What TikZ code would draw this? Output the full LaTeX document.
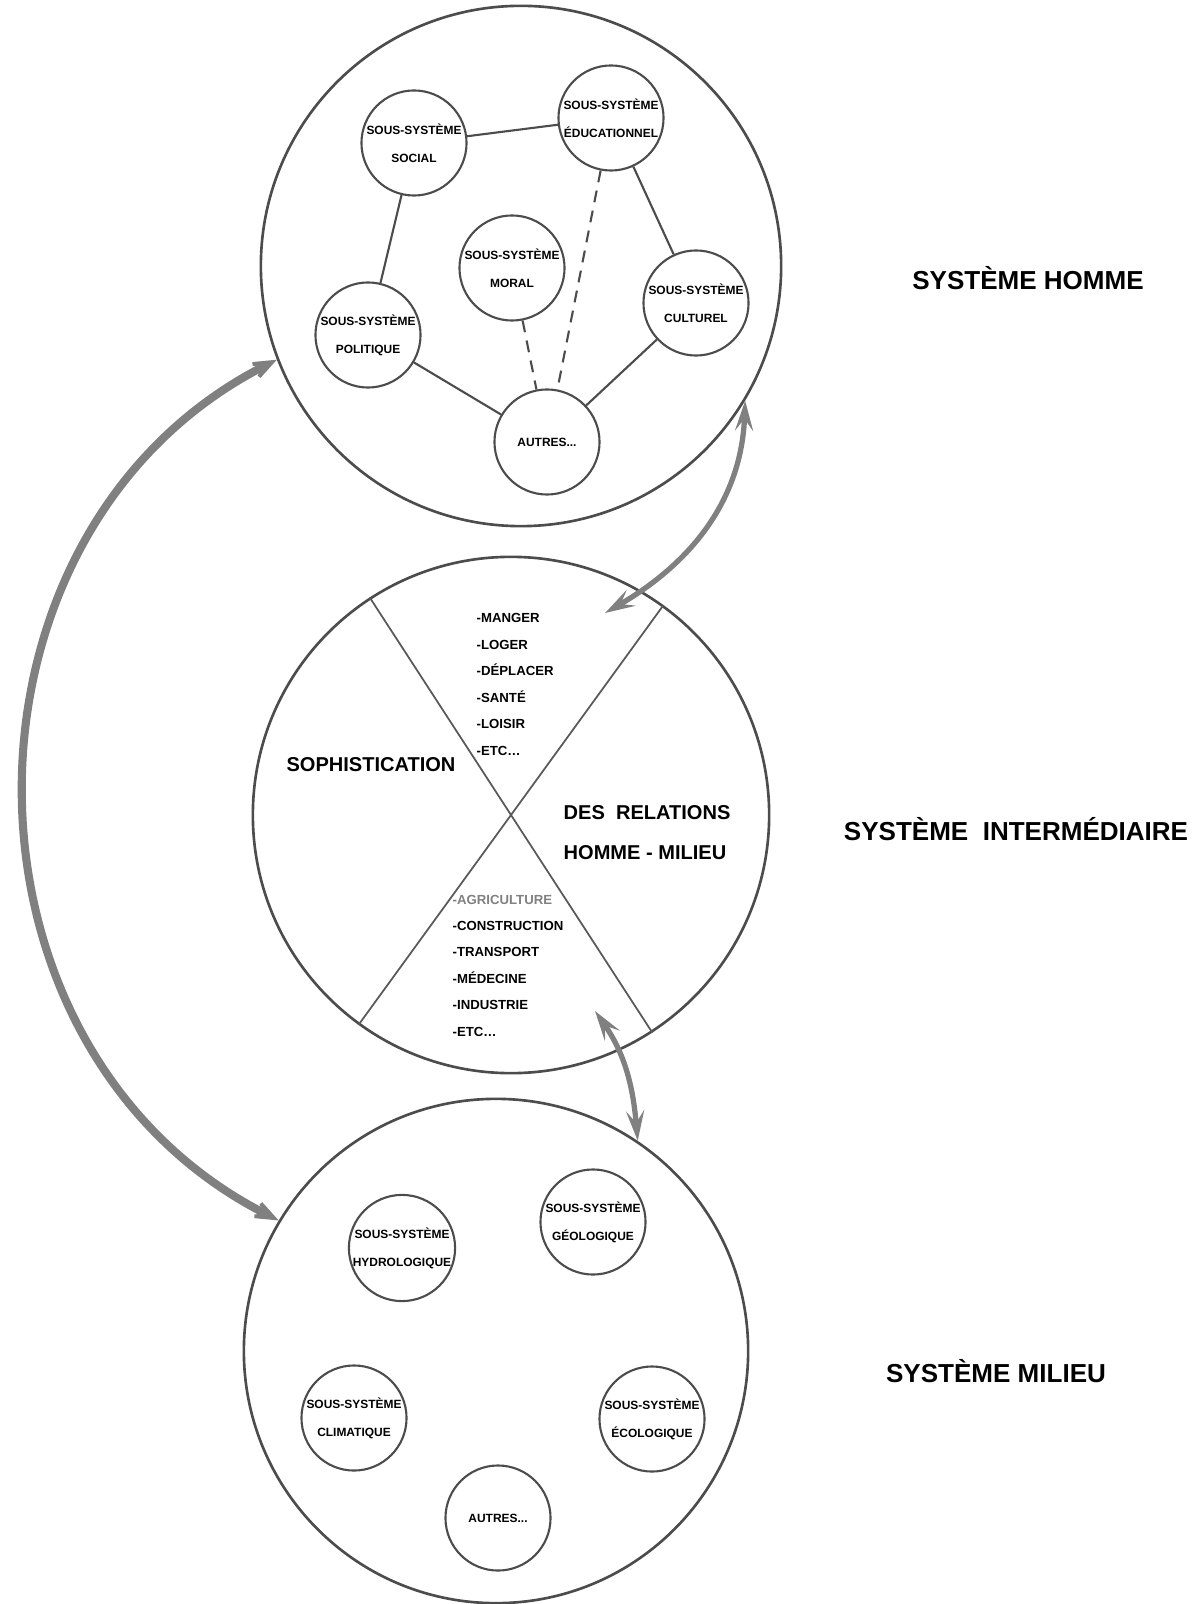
\documentclass[tikz,border=0pt]{standalone}
\usepackage{fontspec}
\setmainfont{Liberation Sans}
\usetikzlibrary{arrows.meta}
\tikzset{
  syst/.style={circle, draw=black!70, line width=0.75pt, inner sep=0pt},
  sous/.style={circle, draw=black!70, line width=0.6pt, inner sep=0pt, minimum size=1.05cm,
    align=center, font=\bfseries\fontsize{3.4}{8}\selectfont},
  lien/.style={draw=black!70, line width=0.6pt},
  lienpt/.style={lien, dash pattern=on 3.4pt off 2.4pt},
  diag/.style={draw=black!65, line width=0.5pt},
  liste/.style={anchor=base west, inner sep=0pt, font=\bfseries\fontsize{3.75}{4}\selectfont},
  grand/.style={inner sep=0pt, font=\bfseries\fontsize{5.7}{11.4}\selectfont},
  titre/.style={inner sep=0pt, font=\bfseries\fontsize{7.4}{9}\selectfont},
  grandefleche/.style={draw=black!50, line width=2.3pt,
    arrows={Stealth[length=4.5mm,width=3.5mm,inset=3mm]-Stealth[length=4.5mm,width=3.5mm,inset=3mm]}},
  petitefleche/.style={draw=black!50, line width=1.5pt,
    arrows={Stealth[length=3mm,width=1.8mm,inset=1.2mm]-Stealth[length=3mm,width=1.8mm,inset=1.2mm]}}
}

\begin{document}
\begin{tikzpicture}[x=0.01cm, y=0.01cm]
  %%%%% START %%%%%
  \useasboundingbox (0,0) rectangle (1199,-1604);

  % systeme homme
  \node[syst, minimum size=5.2cm] (homme) at (521,-266) {};
  \node[sous] (social) at (414,-143) {SOUS-SYSTÈME\\SOCIAL};
  \node[sous] (educ) at (611,-118) {SOUS-SYSTÈME\\ÉDUCATIONNEL};
  \node[sous] (moral) at (512,-268) {SOUS-SYSTÈME\\MORAL};
  \node[sous] (culturel) at (696,-303) {SOUS-SYSTÈME\\CULTUREL};
  \node[sous] (politique) at (368,-335) {SOUS-SYSTÈME\\POLITIQUE};
  \node[sous] (autresH) at (547,-442) {AUTRES...};

  \draw[lien] (social) -- (educ);
  \draw[lien] (social) -- (politique);
  \draw[lien] (politique) -- (autresH);
  \draw[lien] (autresH) -- (culturel);
  \draw[lien] (culturel) -- (educ);
  \draw[lienpt] (moral) -- (autresH);
  \draw[lienpt] (educ) -- (autresH);

  % systeme intermediaire
  \node[syst, minimum size=5.16cm] (inter) at (511,-815) {};
  \draw[diag] (inter.123) -- (inter.303);
  \draw[diag] (inter.54) -- (inter.234);

  \foreach \mot [count=\i] in {MANGER, LOGER, DÉPLACER, SANTÉ, LOISIR, ETC\ldots}
    \node[liste] (besoin\i) at (476, {-623-26.4*(\i-1)}) {-\mot};
  \foreach \mot/\teinte [count=\i] in {AGRICULTURE/black!50, CONSTRUCTION/black,
      TRANSPORT/black, MÉDECINE/black, INDUSTRIE/black, ETC\ldots/black}
    \node[liste, text=\teinte] (moyen\i) at (452, {-904-26.4*(\i-1)}) {-\mot};

  \node[grand] (sophis) at (371,-765) {SOPHISTICATION};
  \node[grand, anchor=west, align=left] (relations) at (563,-833) {DES\ \ RELATIONS\\HOMME - MILIEU};

  % systeme milieu
  \node[syst, minimum size=5.04cm] (milieu) at (496,-1351) {};
  \node[sous] (hydro) at (402,-1248) {SOUS-SYSTÈME\\HYDROLOGIQUE};
  \node[sous] (geol) at (593,-1222) {SOUS-SYSTÈME\\GÉOLOGIQUE};
  \node[sous] (clim) at (354,-1418) {SOUS-SYSTÈME\\CLIMATIQUE};
  \node[sous] (ecol) at (652,-1419) {SOUS-SYSTÈME\\ÉCOLOGIQUE};
  \node[sous] (autresM) at (498,-1518) {AUTRES...};

  % fleches
  \coordinate (pointeA) at (605,-613);
  \coordinate (pointeB) at (595,-1011);
  \draw[grandefleche] (homme.201) .. controls (-60,-530) and (-60,-1050) .. (milieu.149);
  \draw[petitefleche] (homme.-31) to[out=-92, in=30] (pointeA);
  \draw[petitefleche] (pointeB) to[out=-55, in=95] (milieu.56);

  % titres
  \node[titre] (tHomme) at (1028,-278) {SYSTÈME HOMME};
  \node[titre] (tInter) at (1016,-829) {SYSTÈME\ \ INTERMÉDIAIRE};
  \node[titre] (tMilieu) at (996,-1371) {SYSTÈME MILIEU};

  %%%%% END %%%%%
\end{tikzpicture}
\end{document}
